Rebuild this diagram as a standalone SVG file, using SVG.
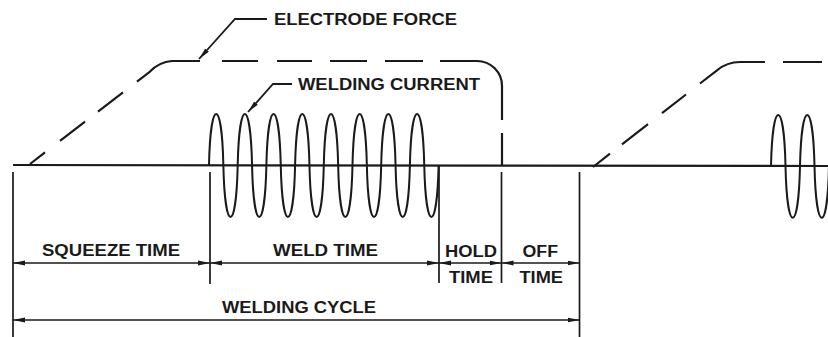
<svg xmlns="http://www.w3.org/2000/svg" width="828" height="337" viewBox="0 0 828 337">
<style>
.ln{stroke:#1a1a1a;stroke-width:2.2;fill:none;stroke-linecap:butt;stroke-linejoin:round}
.wave{stroke:#1a1a1a;stroke-width:2;fill:none;stroke-linejoin:round}
.dim{stroke:#1a1a1a;stroke-width:1.7;fill:none}
.arr{marker-start:url(#ah);marker-end:url(#ah)}
.lead{stroke:#1a1a1a;stroke-width:1.8;fill:none;marker-end:url(#ah)}
text{font-family:"Liberation Sans",Arial,Helvetica,sans-serif;font-weight:bold;font-size:16px;fill:#1a1a1a}
</style>
<defs>
<marker id="ah" viewBox="0 0 12 6" refX="12" refY="3" markerWidth="12" markerHeight="6" markerUnits="userSpaceOnUse" orient="auto-start-reverse">
<path d="M0,0.6 L12,3 L0,5.4 z" fill="#1a1a1a"/>
</marker>
</defs>
<rect width="828" height="337" fill="#ffffff"/>

<g id="baseline">
<path class="ln" d="M13,165 L828,166"/>
</g>

<g id="electrode-force">
<path class="ln" d="M30,164 L45,152.4 M60,140.9 L85,121.7 M98,111.6 L123,92.4 M137,81.6 L150,71.6 Q159,62 172,61 L200,61 M222,61 L258,61 M277,61 L312,61 M330,61 L367,61 M385,61 L423,61 M440,61 L477,61 A25,25 0 0 1 502,86 L502,120 M502,133 L502,166"/>
<path class="ln" d="M593,167 L610,153.7 M622,144.4 L648,124.1 M662,113.2 L686,94.5 M700,83.5 L717,70.3 Q727,62 740,62 L765,62 M783,62 L822,62"/>
</g>

<g id="welding-current">
<path class="wave" d="M209,165 C210.5,97 221.85,97 223.35,165 C224.85,234.3 236.2,234.3 237.7,165 C239.2,97 250.55,97 252.05,165 C253.55,234.3 264.9,234.3 266.4,165 C267.9,97 279.25,97 280.75,165 C282.25,234.3 293.6,234.3 295.1,165 C296.6,97 307.95,97 309.45,165 C310.95,234.3 322.3,234.3 323.8,165 C325.3,97 336.65,97 338.15,165 C339.65,234.3 351,234.3 352.5,165 C354,97 365.35,97 366.85,165 C368.35,234.3 379.7,234.3 381.2,165 C382.7,97 394.05,97 395.55,165 C397.05,234.3 408.4,234.3 409.9,165 C411.4,97 422.75,97 424.25,165 C425.75,234.3 437.1,234.3 438.6,165"/>
<path class="wave" d="M771,166 C772.5,98 784,98 785.5,166 C787,235 798.5,235 800,166 C801.5,98 813,98 814.5,166 C816,235 827.5,235 829,166 C830.5,98 842,98 843.5,166"/>
</g>

<g id="labels">
<text x="274" y="25" textLength="183" lengthAdjust="spacingAndGlyphs">ELECTRODE FORCE</text>
<text x="298" y="90" textLength="182" lengthAdjust="spacingAndGlyphs">WELDING CURRENT</text>
</g>

<g id="connectors">
<path class="lead" d="M267,19 L235,19 L199,59"/>
<path class="lead" d="M292,84 L273,84 L248,112"/>
<path class="dim" d="M13,172 L13,337 M210,172 L210,284 M439,165 L439,283 M501.5,172 L501.5,283 M579.5,172 L579.5,337"/>
<path class="dim arr" d="M13,263 L210,263"/>
<path class="dim arr" d="M210,263 L439,263"/>
<path class="dim arr" d="M439,263 L501.5,263"/>
<path class="dim arr" d="M501.5,263 L579.5,263"/>
<path class="dim arr" d="M13,320 L579.5,320"/>
</g>

<g id="squeeze-time"><text x="42" y="256" textLength="138" lengthAdjust="spacingAndGlyphs">SQUEEZE TIME</text></g>
<g id="weld-time"><text x="273" y="256" textLength="105" lengthAdjust="spacingAndGlyphs">WELD TIME</text></g>
<g id="hold-time"><text x="445" y="256.5" textLength="52" lengthAdjust="spacingAndGlyphs">HOLD</text><text x="449" y="283" textLength="44" lengthAdjust="spacingAndGlyphs">TIME</text></g>
<g id="off-time"><text x="522.5" y="256.5" textLength="35.5" lengthAdjust="spacingAndGlyphs">OFF</text><text x="519.5" y="283" textLength="43.5" lengthAdjust="spacingAndGlyphs">TIME</text></g>
<g id="welding-cycle"><text x="222" y="313" textLength="154" lengthAdjust="spacingAndGlyphs">WELDING CYCLE</text></g>
</svg>
